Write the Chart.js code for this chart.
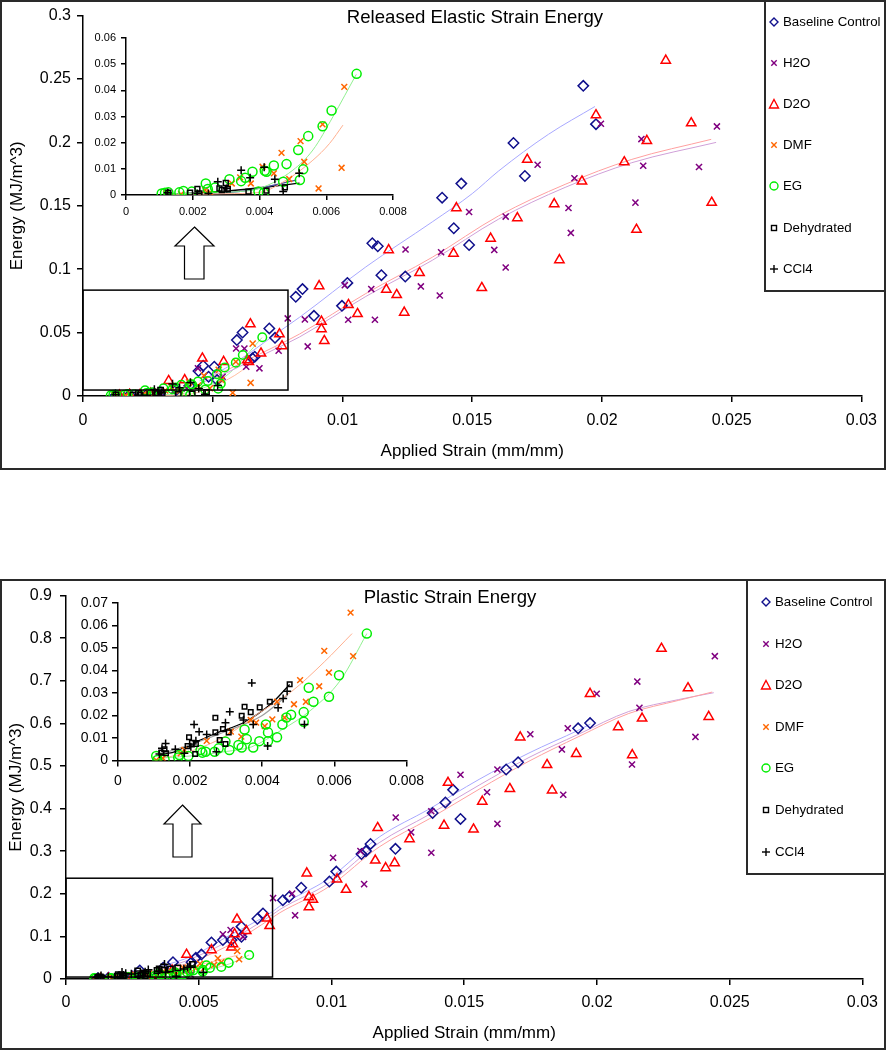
<!DOCTYPE html>
<html><head><meta charset="utf-8">
<script src="https://cdn.jsdelivr.net/npm/chart.js@4.4.1/dist/chart.umd.min.js"></script>
<style>
html,body{margin:0;padding:0;background:#fff;}
#wrap{position:relative;width:886px;height:1050px;overflow:hidden;font-family:'Liberation Sans',Arial,sans-serif;}
canvas{position:absolute;}
.frame{position:absolute;border:2px solid #2a2a2a;box-sizing:border-box;}
.legend{position:absolute;background:#fff;border:2px solid #2a2a2a;box-sizing:border-box;}
.li{position:absolute;font-size:13.3px;color:#000;white-space:nowrap;line-height:16px;}
.mk{position:absolute;}
.ttl{position:absolute;font-size:18.6px;line-height:20px;white-space:nowrap;color:#000;transform:translateX(-50%);}
#over{position:absolute;left:0;top:0;pointer-events:none;}
</style></head>
<body>
<div id="wrap">
  <div class="frame" style="left:0;top:0;width:886px;height:470px;"></div>
  <div class="frame" style="left:0;top:579px;width:886px;height:471px;"></div>
  <canvas id="eMain" width="886" height="470" style="left:0;top:0;"></canvas>
  <canvas id="eInset" width="330" height="205" style="left:86px;top:25px;"></canvas>
  <canvas id="pMain" width="886" height="472" style="left:0;top:578px;"></canvas>
  <canvas id="pInset" width="370" height="210" style="left:60px;top:590px;"></canvas>
  <div class="ttl" style="left:475px;top:7px;">Released Elastic Strain Energy</div>
  <div class="ttl" style="left:450px;top:587px;">Plastic Strain Energy</div>
  <svg id="over" width="886" height="1050">
    <polygon points="194.5,227 214,246 204,246 204,279 184.5,279 184.5,246 175,246" fill="#fff" stroke="#000" stroke-width="1.2"/>
    <polygon points="182.5,805 201,824 192,824 192,857 173,857 173,824 164,824" fill="#fff" stroke="#000" stroke-width="1.2"/>
  </svg>
  <div class="legend" id="eLegend" style="left:764px;top:0;width:122px;height:292px;"></div>
  <div class="legend" id="pLegend" style="left:746px;top:579px;width:140px;height:296px;"></div>
</div>
<script>
// ---------------- DATA ----------------
const seriesNames = ['Baseline Control','H2O','D2O','DMF','EG','Dehydrated','CCl4'];

// Released elastic strain energy (top)
const eBaseX = [0.00125,0.0018,0.0025,0.003,0.0036,0.0041,0.00445,0.00463,0.00484,0.00506,0.00517,0.00593,0.00615,0.00653,0.00662,0.00718,0.0074,0.0082,0.00846,0.0089,0.00998,0.01019,0.01115,0.01136,0.0115,0.01242,0.01384,0.01429,0.01458,0.01488,0.01659,0.01703,0.01928,0.01977];
const eBaseY = [0.0005,0.001,0.002,0.003,0.005,0.008,0.0197,0.0239,0.0152,0.0231,0.0126,0.0441,0.0501,0.0297,0.031,0.0533,0.0459,0.0782,0.0843,0.0632,0.0711,0.0892,0.1205,0.1181,0.0953,0.0942,0.1564,0.1323,0.1675,0.1191,0.1995,0.1735,0.2446,0.2144];
const eH2oX = [0.0015,0.0025,0.003,0.0035,0.004,0.00443,0.00538,0.0059,0.00622,0.00629,0.0068,0.00754,0.00789,0.00855,0.00866,0.01009,0.01022,0.01111,0.01125,0.01243,0.01302,0.01375,0.0138,0.01488,0.01585,0.01629,0.01629,0.01752,0.01871,0.0188,0.01894,0.01996,0.02129,0.02152,0.02159,0.02374,0.02443];
const eH2oY = [0.0005,0.001,0.002,0.004,0.006,0.0218,0.0152,0.0375,0.0375,0.0231,0.0218,0.0357,0.0612,0.0604,0.0391,0.0874,0.0601,0.0843,0.0601,0.1155,0.0864,0.0793,0.1134,0.1451,0.1152,0.1415,0.1013,0.1824,0.1483,0.1286,0.1717,0.2147,0.1525,0.2026,0.1816,0.1806,0.2126];
const eD2oX = [0.0014,0.0018,0.0022,0.0026,0.0028,0.0033,0.00392,0.0046,0.00542,0.00633,0.00639,0.00645,0.00686,0.00757,0.00767,0.0091,0.00919,0.00919,0.0093,0.01023,0.01058,0.01169,0.01178,0.01209,0.01238,0.01297,0.01428,0.01439,0.01537,0.01571,0.01674,0.01712,0.01816,0.01836,0.01923,0.01977,0.02086,0.02133,0.02173,0.02246,0.02344,0.02423];
const eD2oY = [0.0005,0.001,0.001,0.002,0.001,0.012,0.0126,0.0297,0.027,0.0283,0.027,0.0567,0.0336,0.0488,0.0394,0.0868,0.0588,0.0528,0.0435,0.0719,0.0648,0.084,0.1152,0.0798,0.0659,0.0971,0.1124,0.1483,0.0853,0.1242,0.1404,0.1864,0.1514,0.1073,0.1693,0.2215,0.1845,0.1312,0.2013,0.2646,0.2152,0.1525];
const eDmfX = [0.0012,0.00165,0.00237,0.00252,0.00317,0.00342,0.00374,0.00409,0.00443,0.00466,0.00489,0.00523,0.00534,0.00577,0.00589,0.00646,0.00654];
const eDmfY = [0.0006,0.0003,0.0019,0.001,0.0044,0.0067,0.0044,0.0108,0.0083,0.0161,0.0061,0.0206,0.0127,0.0025,0.027,0.0104,0.0413];
const eEgX = [0.00107,0.00117,0.00127,0.0016,0.00172,0.00197,0.00239,0.00245,0.00267,0.0031,0.00345,0.00357,0.00379,0.00397,0.00413,0.00416,0.00421,0.00443,0.00471,0.00481,0.00516,0.00521,0.00531,0.00546,0.00589,0.00616,0.00691];
const eEgY = [0.0006,0.0009,0.001,0.001,0.0015,0.0013,0.0044,0.0023,0.0029,0.006,0.0053,0.0066,0.0089,0.0013,0.0009,0.0093,0.0089,0.0113,0.0051,0.0118,0.0172,0.0057,0.0098,0.0225,0.0263,0.0323,0.0463];
const eDehX = [0.00127,0.00192,0.00214,0.0022,0.0028,0.00287,0.00299,0.00305,0.00367,0.00421,0.00476];
const eDehY = [0.0009,0.0009,0.0023,0.0006,0.0025,0.0019,0.0046,0.0022,0.0013,0.0017,0.0029];
const eCclX = [0.00125,0.00214,0.00247,0.00275,0.00302,0.00345,0.00372,0.00414,0.00446,0.00471,0.00519];
const eCclY = [0.0009,0.0006,0.0006,0.0051,0.0025,0.0095,0.0066,0.0106,0.006,0.0013,0.0083];
// trend lines (top)
const eBaseTrendX = [0.0045,0.0055,0.0065,0.0075,0.00834,0.0109,0.01346,0.015,0.01602,0.01794,0.01973];
const eBaseTrendY = [0.012,0.022,0.035,0.05,0.062,0.1018,0.1373,0.1596,0.1775,0.2064,0.2283];
const eD2oTrendX = [0.0045,0.0055,0.0065,0.0075,0.00834,0.0109,0.01346,0.01602,0.01858,0.02115,0.02421];
const eD2oTrendY = [0.012,0.02,0.03,0.04,0.0488,0.0808,0.1094,0.1421,0.1669,0.1866,0.2024];
const eH2oTrendX = [0.0045,0.0055,0.0065,0.0075,0.00834,0.0109,0.01346,0.01602,0.01858,0.02115,0.0244];
const eH2oTrendY = [0.01,0.018,0.028,0.038,0.0465,0.0785,0.107,0.1395,0.1645,0.184,0.2];
const eEgTrendX = [0.0011,0.002,0.003,0.0034,0.004,0.005,0.0056,0.0062,0.0069];
const eEgTrendY = [0.0005,0.0006,0.0011,0.0013,0.0025,0.0095,0.0172,0.0299,0.0461];
const eDmfTrendX = [0.0012,0.003,0.004,0.0048,0.0056,0.0061,0.0065];
const eDmfTrendY = [0,0.0005,0.001,0.0057,0.0133,0.0197,0.0267];
const eDehTrendX = [0.0024,0.0035,0.0051];
const eDehTrendY = [0.0006,0.0015,0.0057];
const eCclTrendX = [0.0012,0.003,0.0052];
const eCclTrendY = [0.0003,0.0015,0.0045];

// Plastic strain energy (bottom)
const pBaseX = [0.0012,0.0016,0.002,0.0025,0.00278,0.00332,0.00366,0.00403,0.00473,0.00489,0.0051,0.00548,0.00591,0.00623,0.00661,0.00661,0.00721,0.00742,0.00817,0.0084,0.00886,0.00992,0.01018,0.01113,0.0113,0.01147,0.01241,0.01381,0.01429,0.01458,0.01486,0.01658,0.01703,0.01929,0.01974];
const pBaseY = [0.002,0.003,0.004,0.006,0.0202,0.001,0.0265,0.0395,0.0395,0.0496,0.0573,0.0858,0.0914,0.0914,0.099,0.1229,0.1415,0.154,0.1849,0.1925,0.2143,0.2289,0.2521,0.2932,0.3002,0.3171,0.3055,0.3897,0.4145,0.444,0.3758,0.4918,0.5089,0.5885,0.6008];
const pH2oX = [0.0015,0.0025,0.0035,0.0042,0.0047,0.00591,0.0062,0.00667,0.0078,0.00852,0.00863,0.01006,0.01109,0.01123,0.01242,0.013,0.01376,0.01376,0.01486,0.01586,0.01625,0.01625,0.01749,0.01868,0.01873,0.0189,0.01999,0.02132,0.02152,0.0216,0.02371,0.02444];
const pH2oY = [0.001,0.002,0.002,0.005,0.01,0.105,0.115,0.099,0.19,0.2004,0.1494,0.2846,0.3002,0.2227,0.379,0.3443,0.3937,0.2963,0.4794,0.4385,0.4918,0.3642,0.5746,0.539,0.4324,0.5885,0.6697,0.5034,0.6982,0.6365,0.5683,0.7578];
const pD2oX = [0.0013,0.0016,0.002,0.0025,0.003,0.0035,0.004,0.00454,0.00548,0.00623,0.00629,0.00635,0.00644,0.00679,0.00757,0.00767,0.00907,0.00915,0.0093,0.00915,0.01021,0.01055,0.01165,0.01174,0.01204,0.01238,0.01294,0.01424,0.01439,0.01535,0.01568,0.01672,0.01711,0.01812,0.01831,0.01922,0.01974,0.0208,0.02133,0.0217,0.02243,0.02343,0.02421];
const pD2oY = [0.0005,0.001,0.002,0.003,0.005,0.01,0.02,0.0573,0.0682,0.0743,0.0821,0.1053,0.14,0.113,0.1424,0.1246,0.2482,0.1925,0.1865,0.1687,0.2343,0.2097,0.2784,0.3549,0.2607,0.2723,0.3287,0.3605,0.4609,0.3512,0.4168,0.4463,0.5676,0.5027,0.443,0.5289,0.6697,0.5915,0.5259,0.6117,0.7757,0.6829,0.6156];
const pDmfX = [0.00106,0.00124,0.00174,0.00184,0.00246,0.00313,0.00342,0.00368,0.00383,0.00407,0.00428,0.00441,0.00462,0.00488,0.00505,0.00521,0.00558,0.00572,0.00585,0.00645,0.00652];
const pDmfY = [0.0002,0.001,0.0032,0.0047,0.0087,0.0128,0.0106,0.018,0.0168,0.0153,0.0183,0.0261,0.0191,0.025,0.0357,0.0261,0.033,0.0487,0.0391,0.0657,0.0464];
const pEgX = [0.00106,0.00109,0.00129,0.00167,0.0017,0.00195,0.00229,0.00234,0.00243,0.00268,0.00279,0.00298,0.00309,0.00334,0.00343,0.00351,0.00357,0.00375,0.00392,0.0041,0.00416,0.00416,0.00441,0.00456,0.00467,0.0048,0.00515,0.00515,0.00529,0.00542,0.00585,0.00613,0.0069];
const pEgY = [0.002,0.0002,0.0005,0.0013,0.0024,0.002,0.0047,0.0035,0.0039,0.0039,0.0054,0.0084,0.0047,0.0069,0.0058,0.0138,0.0095,0.0058,0.0086,0.016,0.0125,0.0086,0.0103,0.016,0.0191,0.0203,0.0172,0.0215,0.0323,0.0261,0.0283,0.0379,0.0564];
const pDehX = [0.0012,0.00129,0.00133,0.00193,0.00197,0.00205,0.00214,0.00216,0.0027,0.0027,0.00282,0.00291,0.00298,0.00307,0.00343,0.00351,0.00368,0.00393,0.00421,0.00476];
const pDehY = [0.0035,0.005,0.0032,0.0064,0.0103,0.0079,0.0029,0.0073,0.019,0.0125,0.0091,0.014,0.0073,0.0125,0.0199,0.0239,0.0215,0.0236,0.0261,0.0339];
const pCclX = [0.00115,0.00122,0.00132,0.00159,0.00184,0.00202,0.00211,0.00216,0.00225,0.00246,0.00273,0.00298,0.0031,0.00348,0.00371,0.00375,0.00415,0.00444,0.00458,0.00469,0.00517];
const pCclY = [0.0029,0.0054,0.0076,0.005,0.0032,0.0061,0.016,0.0088,0.0128,0.0116,0.0039,0.0168,0.0217,0.018,0.0345,0.016,0.0064,0.0234,0.0276,0.0308,0.016];
// trend lines (bottom)
const pBaseTrendX = [0.0035,0.0048,0.006,0.0078,0.00805,0.00992,0.0118,0.01368,0.01556,0.01744,0.01932,0.01976];
const pBaseTrendY = [0.028,0.055,0.097,0.159,0.171,0.2366,0.3333,0.399,0.4686,0.5305,0.5846,0.5985];
const pD2oTrendX = [0.003,0.0045,0.006,0.0078,0.00805,0.00992,0.0118,0.01368,0.01556,0.01744,0.01932,0.0212,0.02308,0.02434];
const pD2oTrendY = [0.01,0.035,0.075,0.145,0.1554,0.2173,0.3101,0.3758,0.4454,0.5113,0.5693,0.6233,0.6541,0.6736];
const pH2oTrendX = [0.003,0.0045,0.006,0.0078,0.00805,0.00992,0.0118,0.01368,0.01556,0.01744,0.01932,0.0212,0.02308,0.0244];
const pH2oTrendY = [0.012,0.042,0.085,0.152,0.163,0.226,0.32,0.386,0.455,0.52,0.575,0.628,0.656,0.672];
const pEgTrendX = [0.0011,0.002,0.003,0.00371,0.00453,0.00535,0.00617,0.0069];
const pEgTrendY = [0.001,0.002,0.004,0.0061,0.0135,0.0224,0.0357,0.0564];
const pDmfTrendX = [0.0011,0.002,0.003,0.00389,0.0048,0.00572,0.00649];
const pDmfTrendY = [0.0005,0.004,0.011,0.0209,0.0305,0.0438,0.0564];
const pDehTrendX = [0.0012,0.0015,0.002,0.0027,0.00353,0.00426,0.00476];
const pDehTrendY = [0.003,0.0035,0.007,0.012,0.0172,0.0254,0.0338];
const pCclTrendX = [0.0012,0.002,0.003,0.004,0.0047];
const pCclTrendY = [0.003,0.007,0.013,0.02,0.029];

// zoom boxes (data coordinates of the magnified region)
const eZoomBox = {x0: 0, x1: 0.0079, y0: 0.0047, y1: 0.0835};
const pZoomBox = {x0: 0, x1: 0.00778, y0: 0.0046, y1: 0.2366};

// ticks
const eMainXTicks = [0,0.005,0.01,0.015,0.02,0.025,0.03];
const eMainXLabels = ['0','0.005','0.01','0.015','0.02','0.025','0.03'];
const eMainYTicks = [0,0.05,0.1,0.15,0.2,0.25,0.3];
const eMainYLabels = ['0','0.05','0.1','0.15','0.2','0.25','0.3'];
const eInsetXTicks = [0,0.002,0.004,0.006,0.008];
const eInsetXLabels = ['0','0.002','0.004','0.006','0.008'];
const eInsetYTicks = [0,0.01,0.02,0.03,0.04,0.05,0.06];
const eInsetYLabels = ['0','0.01','0.02','0.03','0.04','0.05','0.06'];
const pMainXTicks = [0,0.005,0.01,0.015,0.02,0.025,0.03];
const pMainXLabels = ['0','0.005','0.01','0.015','0.02','0.025','0.03'];
const pMainYTicks = [0,0.1,0.2,0.3,0.4,0.5,0.6,0.7,0.8,0.9];
const pMainYLabels = ['0','0.1','0.2','0.3','0.4','0.5','0.6','0.7','0.8','0.9'];
const pInsetXTicks = [0,0.002,0.004,0.006,0.008];
const pInsetXLabels = ['0','0.002','0.004','0.006','0.008'];
const pInsetYTicks = [0,0.01,0.02,0.03,0.04,0.05,0.06,0.07];
const pInsetYLabels = ['0','0.01','0.02','0.03','0.04','0.05','0.06','0.07'];

// ---------------- STYLE ----------------
const FONT = "'Liberation Sans', Arial, sans-serif";
const C = {base:'#10108c', h2o:'#800080', d2o:'#ff0000', dmf:'#ff6600', eg:'#00ee00', deh:'#000000', ccl:'#000000'};
const STY = [
  {style:'rectRot', color:C.base, r:5.2},
  {style:'crossRot', color:C.h2o, r:4.3},
  {style:'triangle', color:C.d2o, r:5.4},
  {style:'crossRot', color:C.dmf, r:4.3},
  {style:'circle', color:C.eg, r:4.3},
  {style:'rect', color:C.deh, r:3.8},
  {style:'cross', color:C.ccl, r:4.2}
];

const pts = (xs, ys) => xs.map((x, i) => ({x, y: ys[i]}));
function pointSet(idx, xs, ys, scale) {
  const s = STY[idx];
  return {label: seriesNames[idx], data: pts(xs, ys), showLine: false,
    pointStyle: s.style, pointRadius: s.r * (scale || 1), pointHoverRadius: s.r,
    borderColor: s.color, backgroundColor: 'rgba(0,0,0,0)',
    pointBorderColor: s.color, pointBackgroundColor: 'rgba(0,0,0,0)',
    pointBorderWidth: 1.5, order: 10 - idx};
}
function trendSet(xs, ys, color, w) {
  return {data: pts(xs, ys), showLine: true, borderColor: color, borderWidth: w || 1,
    pointRadius: 0, pointHoverRadius: 0, cubicInterpolationMode: 'monotone', fill: false, order: 100};
}
function makeScale(o) {
  return {
    type: 'linear', min: o.min, max: o.max,
    afterBuildTicks: s => { s.ticks = o.ticks.map(v => ({value: v})); },
    afterFit: s => { if (o.isX) s.height = o.fit; else s.width = o.fit; },
    ticks: {callback: (v, i) => o.labels[i], font: {family: FONT, size: o.size}, color: '#000',
      padding: o.pad, maxRotation: 0, minRotation: 0, autoSkip: false},
    grid: {display: true, drawOnChartArea: false, drawTicks: true, tickLength: o.tl, color: '#000', lineWidth: o.lw},
    border: {display: true, color: '#000', width: o.lw},
    title: o.title ? {display: true, text: o.title, font: {family: FONT, size: 17}, color: '#000', padding: o.tpad} : {display: false}
  };
}
const zoomBoxPlugin = {
  id: 'zoomBox',
  afterDatasetsDraw(chart, args, opts) {
    if (!opts || !opts.box) return;
    const {x, y} = chart.scales, b = opts.box, ctx = chart.ctx;
    const x0 = x.getPixelForValue(b.x0), x1 = x.getPixelForValue(b.x1);
    const y0 = y.getPixelForValue(b.y0), y1 = y.getPixelForValue(b.y1);
    ctx.save(); ctx.strokeStyle = '#000'; ctx.lineWidth = 1.5;
    ctx.strokeRect(x0, y1, x1 - x0, y0 - y1); ctx.restore();
  }
};
function baseOptions(pad, xs, ys, box) {
  return {responsive: false, animation: false, devicePixelRatio: 1,
    layout: {padding: pad},
    plugins: {legend: {display: false}, tooltip: {enabled: false}, zoomBox: {box: box}},
    scales: {x: xs, y: ys}};
}

// ---------------- TOP ----------------
const eTrendsMain = [
  trendSet(eBaseTrendX, eBaseTrendY, '#a8a8ff'),
  trendSet(eD2oTrendX, eD2oTrendY, '#ffa0a0'),
  trendSet(eH2oTrendX, eH2oTrendY, '#d0a0d8'),
  trendSet(eEgTrendX, eEgTrendY, '#a0f0a0'),
  trendSet(eDmfTrendX, eDmfTrendY, '#ffbfa0')
];
const ePoints = s => [
  pointSet(0, eBaseX, eBaseY, s), pointSet(1, eH2oX, eH2oY, s), pointSet(2, eD2oX, eD2oY, s),
  pointSet(3, eDmfX, eDmfY, s), pointSet(4, eEgX, eEgY, s), pointSet(5, eDehX, eDehY, s), pointSet(6, eCclX, eCclY, s)];
new Chart(document.getElementById('eMain'), {
  type: 'scatter',
  data: {datasets: [...eTrendsMain, ...ePoints(1)]},
  options: baseOptions({left: 0, right: 22, top: 15, bottom: 0},
    makeScale({isX: true, min: 0, max: 0.03, ticks: eMainXTicks, labels: eMainXLabels, size: 16, pad: 9, tl: 6, lw: 1.5, fit: 74,
      title: 'Applied Strain (mm/mm)', tpad: {top: 0, bottom: 8}}),
    makeScale({isX: false, min: 0, max: 0.3, ticks: eMainYTicks, labels: eMainYLabels, size: 16, pad: 6, tl: 6, lw: 1.5, fit: 83,
      title: 'Energy (MJ/m^3)', tpad: {top: 7, bottom: 0}}),
    eZoomBox),
  plugins: [zoomBoxPlugin]
});
new Chart(document.getElementById('eInset'), {
  type: 'scatter',
  data: {datasets: [
    trendSet(eEgTrendX, eEgTrendY, '#90f090'),
    trendSet(eDmfTrendX, eDmfTrendY, '#ffb090'),
    trendSet(eDehTrendX, eDehTrendY, '#4a4a9a', 1.3),
    trendSet(eCclTrendX, eCclTrendY, '#000000', 1.3),
    pointSet(3, eDmfX, eDmfY, 0.95), pointSet(4, eEgX, eEgY, 1.05), pointSet(5, eDehX, eDehY, 0.9), pointSet(6, eCclX, eCclY, 0.95)]},
  options: baseOptions({left: 0, right: 23, top: 13, bottom: 0},
    makeScale({isX: true, min: 0, max: 0.008, ticks: eInsetXTicks, labels: eInsetXLabels, size: 11, pad: 5, tl: 5, lw: 1.5, fit: 35}),
    makeScale({isX: false, min: 0, max: 0.06, ticks: eInsetYTicks, labels: eInsetYLabels, size: 11, pad: 5, tl: 5, lw: 1.5, fit: 40}),
    null),
  plugins: [zoomBoxPlugin]
});

// ---------------- BOTTOM ----------------
const pTrendsMain = [
  trendSet(pBaseTrendX, pBaseTrendY, '#a8a8ff'),
  trendSet(pD2oTrendX, pD2oTrendY, '#ffa0a0'),
  trendSet(pH2oTrendX, pH2oTrendY, '#d0a0d8'),
  trendSet(pEgTrendX, pEgTrendY, '#a0f0a0'),
  trendSet(pDmfTrendX, pDmfTrendY, '#ffbfa0')
];
new Chart(document.getElementById('pMain'), {
  type: 'scatter',
  data: {datasets: [...pTrendsMain,
    pointSet(0, pBaseX, pBaseY), pointSet(1, pH2oX, pH2oY), pointSet(2, pD2oX, pD2oY),
    pointSet(3, pDmfX, pDmfY), pointSet(4, pEgX, pEgY), pointSet(5, pDehX, pDehY), pointSet(6, pCclX, pCclY)]},
  options: baseOptions({left: 0, right: 22, top: 13, bottom: 0},
    makeScale({isX: true, min: 0, max: 0.03, ticks: pMainXTicks, labels: pMainXLabels, size: 16, pad: 8, tl: 6, lw: 1.5, fit: 71,
      title: 'Applied Strain (mm/mm)', tpad: {top: 0, bottom: 6}}),
    makeScale({isX: false, min: 0, max: 0.9, ticks: pMainYTicks, labels: pMainYLabels, size: 16, pad: 8, tl: 6, lw: 1.5, fit: 66,
      title: 'Energy (MJ/m^3)', tpad: {top: 6, bottom: 0}}),
    pZoomBox),
  plugins: [zoomBoxPlugin]
});
new Chart(document.getElementById('pInset'), {
  type: 'scatter',
  data: {datasets: [
    trendSet(pEgTrendX, pEgTrendY, '#90f090'),
    trendSet(pDmfTrendX, pDmfTrendY, '#ffb090'),
    trendSet(pCclTrendX, pCclTrendY, '#a0a0a0', 1.3),
    trendSet(pDehTrendX, pDehTrendY, '#000000', 1.3),
    pointSet(3, pDmfX, pDmfY, 0.95), pointSet(4, pEgX, pEgY, 1.05), pointSet(5, pDehX, pDehY, 0.85), pointSet(6, pCclX, pCclY, 0.95)]},
  options: baseOptions({left: 0, right: 20, top: 13, bottom: 0},
    makeScale({isX: true, min: 0, max: 0.008, ticks: pInsetXTicks, labels: pInsetXLabels, size: 14, pad: 6, tl: 6, lw: 1.5, fit: 39.5}),
    makeScale({isX: false, min: 0, max: 0.07, ticks: pInsetYTicks, labels: pInsetYLabels, size: 14, pad: 4, tl: 6, lw: 1.5, fit: 58}),
    null),
  plugins: [zoomBoxPlugin]
});

// ---------------- LEGENDS ----------------
const NS = 'http://www.w3.org/2000/svg';
function marker(idx) {
  const s = STY[idx], svg = document.createElementNS(NS, 'svg');
  svg.setAttribute('width', 12); svg.setAttribute('height', 12); svg.setAttribute('class', 'mk');
  const add = (tag, attrs) => { const e = document.createElementNS(NS, tag);
    for (const k in attrs) e.setAttribute(k, attrs[k]);
    e.setAttribute('stroke', s.color); e.setAttribute('fill', 'none'); e.setAttribute('stroke-width', 1.4); svg.appendChild(e); };
  if (s.style === 'rectRot') add('polygon', {points: '6,2 10,6 6,10 2,6'});
  else if (s.style === 'crossRot') { add('line', {x1: 3.3, y1: 3.3, x2: 8.7, y2: 8.7}); add('line', {x1: 8.7, y1: 3.3, x2: 3.3, y2: 8.7}); }
  else if (s.style === 'triangle') add('polygon', {points: '6,1.5 10.5,10 1.5,10'});
  else if (s.style === 'circle') add('circle', {cx: 6, cy: 6, r: 4});
  else if (s.style === 'rect') add('rect', {x: 3.5, y: 3.5, width: 5, height: 5});
  else { add('line', {x1: 6, y1: 2, x2: 6, y2: 10}); add('line', {x1: 2, y1: 6, x2: 10, y2: 6}); }
  return svg;
}
function buildLegend(id, y0, gap, mx, tx) {
  const box = document.getElementById(id);
  seriesNames.forEach((n, i) => {
    const cy = y0 + i * gap;
    const m = marker(i); m.style.left = (mx - 6) + 'px'; m.style.top = (cy - 6) + 'px'; box.appendChild(m);
    const t = document.createElement('div'); t.className = 'li'; t.textContent = n;
    t.style.left = tx + 'px'; t.style.top = (cy - 8) + 'px'; box.appendChild(t);
  });
}
buildLegend('eLegend', 20, 41.1, 8, 17);
buildLegend('pLegend', 21, 41.6, 18, 27);
</script>
</body></html>
